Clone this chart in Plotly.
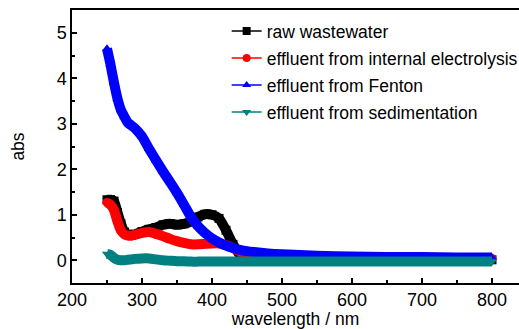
import plotly.graph_objects as go

wavelength = [250, 255, 260, 265, 270, 275, 280, 285, 290, 300, 310, 320, 330, 340, 350, 360, 370,
              380, 390, 400, 410, 420, 430, 440, 450, 460, 480, 500, 550, 600, 650, 700, 750, 800]
raw_wastewater = [1.33, 1.33, 1.30, 1.05, 0.80, 0.62, 0.57, 0.56, 0.57, 0.63, 0.68, 0.72, 0.78, 0.80, 0.78,
                  0.80, 0.85, 0.95, 1.01, 1.00, 0.92, 0.66, 0.35, 0.12, 0.03, 0.01, 0.01, 0.01, 0.01, 0.01,
                  0.01, 0.01, 0.01, 0.01]
internal_electrolysis = [1.27, 1.22, 1.10, 0.85, 0.65, 0.57, 0.54, 0.54, 0.56, 0.60, 0.62, 0.58, 0.53, 0.47,
                         0.42, 0.38, 0.35, 0.35, 0.36, 0.37, 0.37, 0.33, 0.27, 0.19, 0.13, 0.08, 0.04, 0.03,
                         0.03, 0.03, 0.03, 0.03, 0.03, 0.04]
fenton = [4.65, 4.30, 3.90, 3.55, 3.30, 3.15, 3.02, 2.96, 2.90, 2.72, 2.45, 2.20, 1.95, 1.72, 1.48, 1.22,
          0.95, 0.75, 0.60, 0.48, 0.39, 0.32, 0.27, 0.23, 0.20, 0.18, 0.15, 0.13, 0.10, 0.08, 0.07, 0.07,
          0.06, 0.06]
sedimentation = [0.14, 0.12, 0.05, 0.01, 0.00, 0.00, 0.01, 0.02, 0.03, 0.04, 0.04, 0.02, 0.00, -0.01, -0.02,
                 -0.02, -0.03, -0.03, -0.03, -0.03, -0.03, -0.03, -0.03, -0.03, -0.03, -0.03, -0.03, -0.03,
                 -0.03, -0.03, -0.03, -0.03, -0.03, -0.03]

series_names = ["raw wastewater", "effluent from internal electrolysis", "effluent from Fenton",
                "effluent from sedimentation"]
series_values = [raw_wastewater, internal_electrolysis, fenton, sedimentation]
colors = ["#000000", "#ff0000", "#0000ff", "#008080"]
symbols = ["square", "circle", "triangle-up", "triangle-down"]
legend_ids = ["legend", "legend2", "legend3", "legend4"]

fig = go.Figure()
for name, vals, c, s in zip(series_names, series_values, colors, symbols):
    fig.add_trace(go.Scatter(x=wavelength, y=vals, mode="lines+markers", showlegend=False,
                             line=dict(color=c, width=10, shape="spline", smoothing=0.6),
                             marker=dict(symbol=s, size=9, color=c)))
for name, c, s, lg in zip(series_names, colors, symbols, legend_ids):
    fig.add_trace(go.Scatter(x=[None], y=[None], mode="lines+markers", name=name, legend=lg,
                             line=dict(color=c, width=1.5), marker=dict(symbol=s, size=8, color=c)))

fam = "Liberation Sans, Arial, sans-serif"
font = dict(family=fam, size=17.5, color="#000000")
legend_rows = [0.923, 0.824, 0.725, 0.626]
lay = {}
for lg, yy in zip(legend_ids, legend_rows):
    lay[lg] = dict(x=0.346, y=yy, xanchor="left", yanchor="middle", bgcolor="rgba(0,0,0,0)",
                   borderwidth=0, font=font, itemwidth=30)

axis_common = dict(showline=True, linecolor="#000000", linewidth=1.5, mirror=True, ticks="inside",
                   ticklen=5, tickwidth=1.5, tickcolor="#000000", showgrid=False, zeroline=False,
                   tickfont=dict(family=fam, size=18, color="#000000"))
fig.update_layout(
    width=519, height=329, margin=dict(l=72, r=0, t=10, b=46, autoexpand=False),
    paper_bgcolor="white", plot_bgcolor="white", font=font,
    xaxis=dict(range=[200, 838.6], dtick=100, tick0=0,
               minor=dict(ticks="inside", ticklen=3, tickwidth=1.5, dtick=50, tick0=0, tickcolor="#000000"),
               title=dict(text="wavelength / nm", standoff=10, font=dict(family=fam, size=17.5)), **axis_common),
    yaxis=dict(range=[-0.5, 5.5], dtick=1, tick0=0,
               minor=dict(ticks="inside", ticklen=3, tickwidth=1.5, dtick=0.5, tick0=0, tickcolor="#000000"),
               title=dict(text="abs", standoff=28, font=dict(family=fam, size=17.5)), **axis_common),
    **lay,
)
fig.write_html("out.html", config={"displayModeBar": False},
               post_script="document.body.style.margin='0';document.body.style.overflow='hidden';")
